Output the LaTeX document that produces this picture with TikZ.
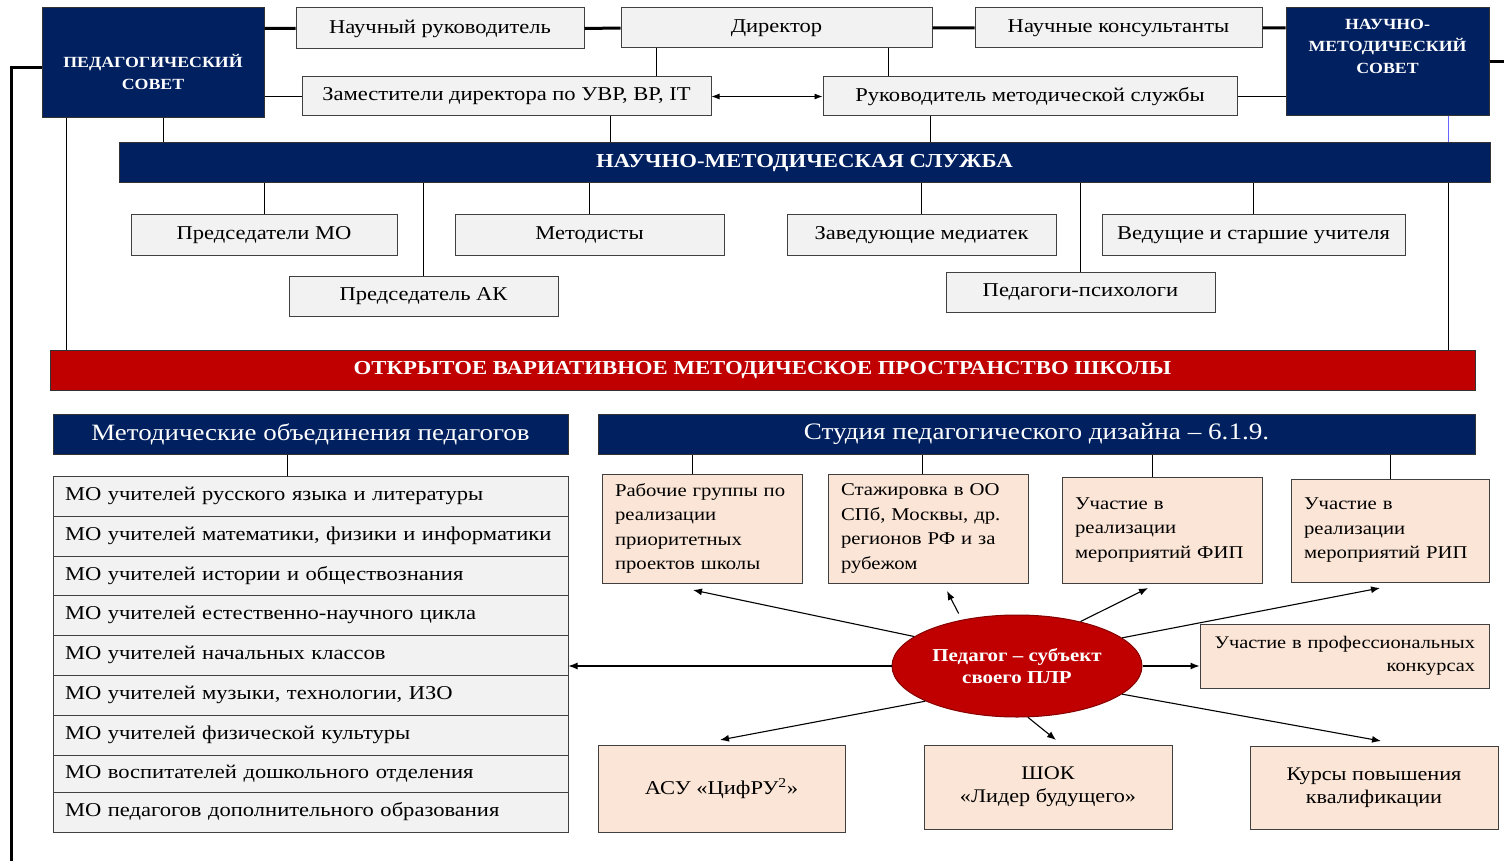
\documentclass[tikz,border=0pt]{standalone}
\usepackage{fontspec}
\setmainfont{Liberation Serif}[FakeStretch=1.15]
\usetikzlibrary{shapes.geometric,arrows.meta}
\definecolor{navy}{HTML}{002060}
\definecolor{redbar}{HTML}{C00000}
\definecolor{boxfill}{HTML}{F2F2F2}
\definecolor{peach}{HTML}{FBE5D6}

\begin{document}
\begin{tikzpicture}[x=1pt,y=-1pt,
    gbox/.style={draw=black!75,fill=boxfill,line width=1pt,inner sep=0pt,font=\fontsize{19.6}{23}\selectfont},
    pbox/.style={draw=black!75,fill=peach,line width=1pt,inner sep=0pt,font=\fontsize{18}{24.5}\selectfont},
    nbox/.style={draw=black!80,fill=navy,line width=1pt,inner sep=0pt,text=white},
    wtxt/.style={text=white,font=\bfseries\fontsize{15.5}{22}\selectfont,align=center},
    thk/.style={line width=3pt},
    thn/.style={line width=0.9pt},
    arr/.style={line width=1.1pt,-{Latex[length=9pt,width=7pt]}}]
    \useasboundingbox (0,0) rectangle (1504,861);

    % top level
    \node (psovet) at (153,63) [nbox,minimum width=222pt,minimum height=110pt] {};
    \node (pstext) at ([yshift=-9pt]psovet.center) [wtxt] {ПЕДАГОГИЧЕСКИЙ\\СОВЕТ};
    \node (nmsovet) at (1387.5,62) [nbox,minimum width=203pt,minimum height=108pt] {};
    \node (nmtext) at ([yshift=16pt]nmsovet.center) [wtxt] {НАУЧНО-\\МЕТОДИЧЕСКИЙ\\СОВЕТ};
    \node (nruk) at (440,28.5) [gbox,minimum width=288pt,minimum height=41pt] {Научный руководитель};
    \node (dir) at (776.5,28) [gbox,minimum width=311pt,minimum height=40pt] {Директор};
    \node (ncons) at (1118.5,28) [gbox,minimum width=287pt,minimum height=40pt] {Научные консультанты};
    \node (zam) at (506.5,96.5) [gbox,minimum width=409pt,minimum height=39pt] {Заместители директора по УВР, ВР, IT};
    \node (ruk) at (1030,96.5) [gbox,minimum width=414pt,minimum height=39pt] {Руководитель методической службы};

    \draw[thk] (nruk.west) -- (nruk.west -| psovet.east) (nruk.east) -- (dir.west)
        (dir.east) -- (ncons.west) (ncons.east) -- (ncons.east -| nmsovet.west);
    \draw[thk] ([yshift=-5pt]psovet.west) -- ++(-30,0) -- ++(0,800);
    \draw[thk] (nmsovet.east) -- ++(15,0);
    \draw[thn] (zam.west) -- (zam.west -| psovet.east) (ruk.east) -- (ruk.east -| nmsovet.west);
    \draw[thn] ([xshift=-120.5pt]dir.south) -- ([xshift=-120.5pt]dir.south |- zam.north);
    \draw[thn] ([xshift=111.5pt]dir.south) -- ([xshift=111.5pt]dir.south |- ruk.north);
    \draw[thn,{Latex[length=8pt,width=6pt]}-{Latex[length=8pt,width=6pt]}] (zam.east) -- (ruk.west);

    % service
    \node (nmsl) at (804.5,163) [nbox,minimum width=1371pt,minimum height=40pt,font=\bfseries\fontsize{19.8}{22}\selectfont] {НАУЧНО-МЕТОДИЧЕСКАЯ СЛУЖБА};
    \draw[thn] ([xshift=103.5pt]zam.south) -- ([xshift=103.5pt]zam.south |- nmsl.north);
    \draw[thn] ([xshift=-100pt]ruk.south) -- ([xshift=-100pt]ruk.south |- nmsl.north);
    \draw[thn] ([xshift=10pt]psovet.south) -- ([xshift=10pt]psovet.south |- nmsl.north);
    \draw[thn,blue!60] ([xshift=60.5pt]nmsovet.south) -- ([xshift=60.5pt]nmsovet.south |- nmsl.north);

    \node (pmo) at (264,235) [gbox,minimum width=266pt,minimum height=40pt] {Председатели МО};
    \node (metod) at (589.5,235) [gbox,minimum width=269pt,minimum height=40pt] {Методисты};
    \node (media) at (921.5,235) [gbox,minimum width=269pt,minimum height=40pt] {Заведующие медиатек};
    \node (vedu) at (1253.5,235) [gbox,minimum width=303pt,minimum height=40pt] {Ведущие и старшие учителя};
    \node (pak) at (423.5,296) [gbox,minimum width=269pt,minimum height=40pt] {Председатель АК};
    \node (psih) at (1080.5,292) [gbox,minimum width=269pt,minimum height=40pt] {Педагоги-психологи};
    \foreach \b in {pmo,metod,media,vedu,pak,psih}
        \draw[thn] (\b.north) -- (\b.north |- nmsl.south);

    \node (open) at (762.5,370) [draw=black!80,fill=redbar,line width=1pt,minimum width=1425pt,minimum height=40pt,inner sep=0pt,text=white,font=\bfseries\fontsize{19.8}{22}\selectfont] {ОТКРЫТОЕ ВАРИАТИВНОЕ МЕТОДИЧЕСКОЕ ПРОСТРАНСТВО ШКОЛЫ};
    \draw[thn] ([xshift=-87pt]psovet.south) -- ([xshift=-87pt]psovet.south |- open.north);
    \draw[thn] ([xshift=60.5pt]nmsovet.south |- nmsl.south) -- ([xshift=60.5pt]nmsovet.south |- open.north);

    % methodical unions
    \node (mohead) at (310.5,434) [nbox,minimum width=515pt,minimum height=40pt,font=\fontsize{23.4}{26}\selectfont] {Методические объединения педагогов};
    \foreach \n/\yc/\h/\txt in {1/496/40/{МО учителей русского языка и литературы},
        2/536/40/{МО учителей математики, физики и информатики},
        3/575.5/39/{МО учителей истории и обществознания},
        4/615/40/{МО учителей естественно-научного цикла},
        5/655/40/{МО учителей начальных классов},
        6/695/40/{МО учителей музыки, технологии, ИЗО},
        7/735/40/{МО учителей физической культуры},
        8/773.5/37/{МО воспитателей дошкольного отделения},
        9/812/40/{МО педагогов дополнительного образования}}
        \node (mo\n) at (310.5,\yc) [gbox,minimum height=\h pt,text width=491pt,inner xsep=12pt,align=left] {\txt};
    \draw[thn] ([xshift=-23.5pt]mohead.south) -- ([xshift=-23.5pt]mohead.south |- mo1.north);

    % studio
    \node (studio) at (1036.5,434) [nbox,minimum width=877pt,minimum height=40pt,font=\fontsize{23.6}{26}\selectfont] {Студия педагогического дизайна – 6.1.9.};
    \node (rab) at (702,528.5) [pbox,minimum height=109pt,text width=174pt,inner xsep=13pt,align=left] {Рабочие группы по\\реализации\\приоритетных\\проектов школы};
    \node (stazh) at (928,528.5) [pbox,minimum height=109pt,text width=174pt,inner xsep=13pt,align=left] {Стажировка в ОО\\СПб, Москвы, др.\\регионов РФ и за\\рубежом};
    \node (fip) at (1162,530) [pbox,minimum height=106pt,text width=174pt,inner xsep=13pt,align=left] {Участие в\\реализации\\мероприятий ФИП\\[22pt]};
    \node (rip) at (1390,530.5) [pbox,minimum height=103pt,text width=172pt,inner xsep=13pt,align=left] {Участие в\\реализации\\мероприятий РИП\\[22pt]};
    \draw[thn] ([xshift=-10pt]rab.north) -- ([xshift=-10pt]rab.north |- studio.south);
    \draw[thn] ([xshift=-6pt]stazh.north) -- ([xshift=-6pt]stazh.north |- studio.south);
    \draw[thn] ([xshift=-10pt]fip.north) -- ([xshift=-10pt]fip.north |- studio.south);
    \draw[thn] (rip.north) -- (rip.north |- studio.south);

    \node (ped) at (1017,666) [ellipse,draw=redbar!70!black,fill=redbar,line width=1pt,minimum width=250pt,minimum height=102pt,inner sep=0pt,text=white,align=center,font=\bfseries\fontsize{18.2}{22}\selectfont] {Педагог – субъект\\своего ПЛР};
    \node (konk) at (1344.5,656) [pbox,minimum height=64pt,text width=261pt,inner xsep=14pt,align=right,font=\fontsize{17.7}{23}\selectfont] {Участие в профессиональных\\конкурсах};
    \node (asu) at (721.5,788.5) [pbox,minimum width=247pt,minimum height=87pt,font=\fontsize{19.6}{23}\selectfont] {АСУ «ЦифРУ\textsuperscript{2}»};
    \node (shok) at (1048,787) [pbox,minimum width=248pt,minimum height=84pt,align=center,font=\fontsize{19.3}{23}\selectfont] {ШОК\\«Лидер будущего»};
    \node (kurs) at (1374,787.5) [pbox,minimum width=248pt,minimum height=83pt,align=center,font=\fontsize{19.3}{23}\selectfont] {Курсы повышения\\квалификации};

    \coordinate (tRab) at (693,590);
    \coordinate (tSt) at (947,591);
    \coordinate (tFip) at (1148,588);
    \coordinate (tRip) at (1380,588);
    \coordinate (tAsu) at (720,740);
    \coordinate (tShok) at (1056,740);
    \coordinate (tKurs) at (1381,741);

    \draw[arr] (ped.164) -- (tRab);
    \draw[arr,shorten <=7pt] (ped.140) -- (tSt);
    \draw[arr] (ped.35) -- (tFip);
    \draw[arr] (ped.15) -- (tRip);
    \draw[arr] (ped.west) -- (ped.west -| mo5.east);
    \draw[arr] (ped.east) -- (ped.east -| konk.west);
    \draw[arr] (ped.201) -- (tAsu);
    \draw[arr] (ped.282) -- (tShok);
    \draw[arr] (ped.345) -- (tKurs);
\end{tikzpicture}
\end{document}
